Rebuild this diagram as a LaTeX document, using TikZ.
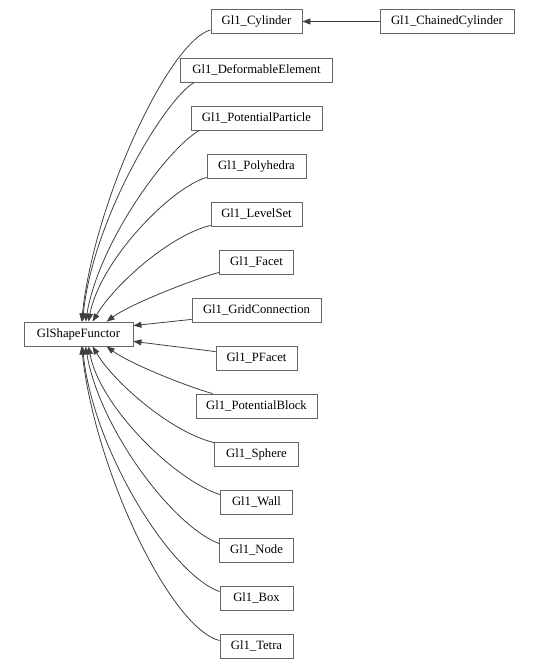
\documentclass[tikz,border=0pt]{standalone}
\usepackage{fontspec}
\setmainfont{Liberation Serif}
\usepackage{tikz}
\usetikzlibrary{arrows.meta,calc}
\definecolor{boxgray}{RGB}{102,102,102}
\definecolor{edgegray}{RGB}{64,64,64}

\begin{document}
\begin{tikzpicture}[>={Triangle[length=6pt,width=4.5pt]}, x=0.75pt, y=-0.75pt,
    cls/.style={draw=boxgray, line width=0.6pt, minimum height=18pt, inner xsep=1pt, inner ysep=0pt,
      font=\fontsize{9.5}{11}\selectfont},
    edge/.style={draw=edgegray, line width=0.6pt, ->}]
      \useasboundingbox (0,0) rectangle (539,668);
      \node[cls, minimum width=81.8pt] (sf) at (78.5,334) {GlShapeFunctor};
      \node[cls, minimum width=68.3pt] (cyl) at (256.5,21.5) {Gl1\_Cylinder};
      \node[cls, minimum width=100.5pt] (chain) at (447,21.5) {Gl1\_ChainedCylinder};
      \node[cls, minimum width=114pt] (defel) at (256.5,70) {Gl1\_DeformableElement};
      \node[cls, minimum width=98.3pt] (ppart) at (256.5,118) {Gl1\_PotentialParticle};
      \node[cls, minimum width=74.3pt] (poly) at (256.5,166) {Gl1\_Polyhedra};
      \node[cls, minimum width=68.3pt] (lset) at (256.5,214) {Gl1\_LevelSet};
      \node[cls, minimum width=55.5pt] (facet) at (256.5,262) {Gl1\_Facet};
      \node[cls, minimum width=96.8pt] (grid) at (256.5,310) {Gl1\_GridConnection};
      \node[cls, minimum width=60.8pt] (pfacet) at (256.5,358) {Gl1\_PFacet};
      \node[cls, minimum width=90.8pt] (pblock) at (256.5,406) {Gl1\_PotentialBlock};
      \node[cls, minimum width=63pt] (sphere) at (256.5,454) {Gl1\_Sphere};
      \node[cls, minimum width=54pt] (wall) at (256.5,502) {Gl1\_Wall};
      \node[cls, minimum width=55.5pt] (gnode) at (256.5,550) {Gl1\_Node};
      \node[cls, minimum width=54.8pt] (gbox) at (256.5,598) {Gl1\_Box};
      \node[cls, minimum width=54.8pt] (tetra) at (256.5,646) {Gl1\_Tetra};
      \draw[edge] (chain) -- (cyl);
      \draw[edge] ($(cyl.south west)+(0,-4)$) .. controls +(-41,11) and +(13,-122) .. ($(sf.north west)+(58,0)$);
      \draw[edge] ($(defel.south west)+(14,0)$) .. controls +(-30,18) and +(10,-102) .. ($(sf.north west)+(59,0)$);
      \draw[edge] ($(ppart.south west)+(9,0)$) .. controls +(-30,16) and +(14,-82) .. ($(sf.north west)+(62,0)$);
      \draw[edge] ($(poly.south west)+(0,-1)$) .. controls +(-37,11) and +(11,-60) .. ($(sf.north west)+(65,0)$);
      \draw[edge] ($(lset.south west)+(0,-1)$) .. controls +(-41,10) and +(22,-37) .. ($(sf.north west)+(69,0)$);
      \draw[edge] ($(facet.south west)+(0,-2)$) .. controls +(-29,8) and +(23,-17) .. ($(sf.north west)+(83,0)$);
      \draw[edge] ($(grid.south west)+(0,-3)$) -- ($(sf.north east)+(0,4)$);
      \draw[edge] ($(pfacet.north west)+(0,6)$) -- ($(sf.south east)+(0,-5)$);
      \draw[edge] ($(pblock.north west)+(17,0)$) .. controls +(-28,-8) and +(23,17) .. ($(sf.south west)+(83,0)$);
      \draw[edge] ($(sphere.north west)+(0,1)$) .. controls +(-42,-10) and +(22,37) .. ($(sf.south west)+(69,0)$);
      \draw[edge] ($(wall.north west)+(0,5)$) .. controls +(-45,-14) and +(11,60) .. ($(sf.south west)+(65,0)$);
      \draw[edge] ($(gnode.north west)+(0,6)$) .. controls +(-47,-18) and +(14,82) .. ($(sf.south west)+(62,0)$);
      \draw[edge] ($(gbox.north west)+(0,6)$) .. controls +(-50,-18) and +(10,102) .. ($(sf.south west)+(59,0)$);
      \draw[edge] ($(tetra.north west)+(0,7)$) .. controls +(-50,-13) and +(13,122) .. ($(sf.south west)+(58,0)$);
    \end{tikzpicture}
\end{document}
